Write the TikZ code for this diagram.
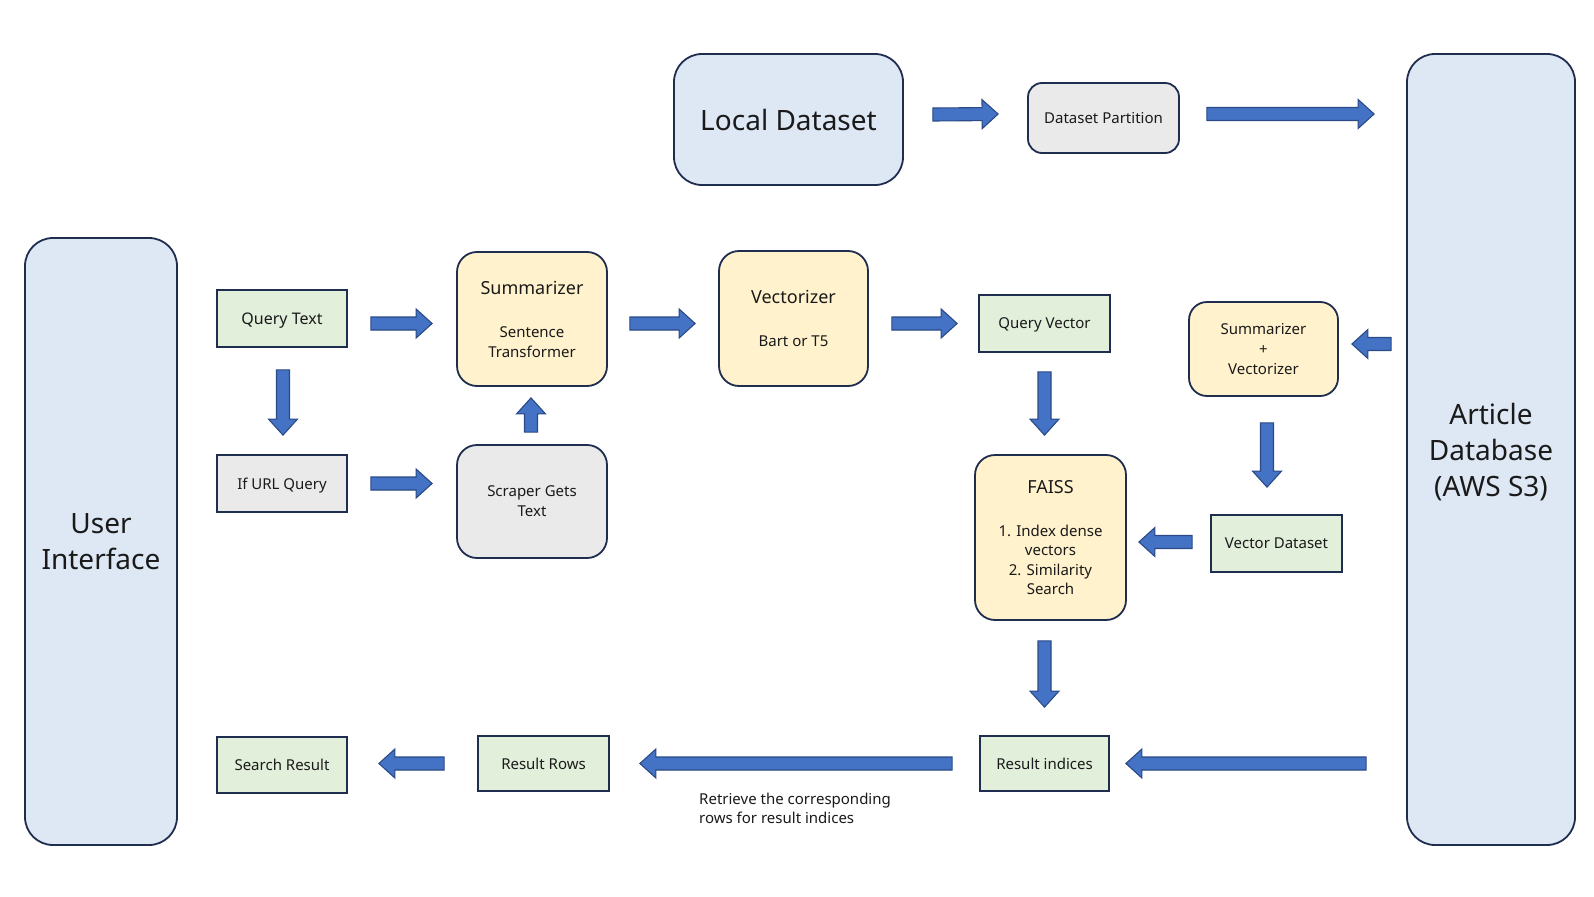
\documentclass[tikz,border=0pt]{standalone}
\usepackage{fontspec}
\setmainfont{Noto Sans}
\usetikzlibrary{calc}
\definecolor{bluebg}{HTML}{DEE8F4}
\definecolor{yelbg}{HTML}{FFF2CC}
\definecolor{grnbg}{HTML}{E2EFDA}
\definecolor{graybg}{HTML}{EAEAEA}
\definecolor{edgecol}{HTML}{1F2D4F}
\definecolor{arrfill}{HTML}{4472C4}
\definecolor{arredge}{HTML}{2B4A86}
\definecolor{txt}{HTML}{1A1A1A}
\newcommand\ttlfont{\fontsize{18}{20}\selectfont}
\newcommand\blkarrow[2]{%
  \path #1 coordinate (ba-s) #2 coordinate (ba-e);
  \path ($(ba-e)!16pt!(ba-s)$) coordinate (ba-h);
  \filldraw[blkarr] ($(ba-s)!6.5pt!90:(ba-e)$) -- ($(ba-h)!6.5pt!90:(ba-e)$) -- ($(ba-h)!14.5pt!90:(ba-e)$) -- (ba-e) -- ($(ba-h)!14.5pt!-90:(ba-e)$) -- ($(ba-h)!6.5pt!-90:(ba-e)$) -- ($(ba-s)!6.5pt!-90:(ba-e)$) -- cycle;}
\tikzset{
  box/.style={draw=edgecol, line width=1.8pt, inner sep=0pt, align=center, text=txt,
    font=\fontsize{15}{20}\selectfont, text depth=0pt},
  rbox/.style={box, rounded corners=20pt},
  bigbox/.style={box, rounded corners=28pt, fill=bluebg, font=\fontsize{28}{36}\selectfont},
  greenbox/.style={box, fill=grnbg},
  graybox/.style={box, fill=graybg},
  yelbox/.style={rbox, fill=yelbg},
  blkarr/.style={fill=arrfill, draw=arredge, line width=1.1pt, line join=miter}
}
\begin{document}
\begin{tikzpicture}[x=1pt, y=-1pt]
\useasboundingbox[fill=white] (0,0) rectangle (1594,896);

% big boxes
\node[bigbox, minimum width=229, minimum height=131] (ld) at (788.5,119.5) {Local Dataset};
\node[bigbox, minimum width=168, minimum height=791] (adb) at (1491,449.5) {Article\\Database\\(AWS S3)};
\node[bigbox, minimum width=152, minimum height=607] (ui) at (101,541.5) {User\\Interface};

% top row
\node[graybox, rounded corners=14pt, minimum width=151, minimum height=70] (dp) at (1103.5,118) {Dataset Partition};

% left column
\node[greenbox, minimum width=130, minimum height=57, font=\fontsize{16}{20}\selectfont] (qt) at (282,318.5) {Query Text};
\node[graybox, minimum width=130, minimum height=57] (iu) at (282,483.5) {If URL Query};
\node[greenbox, minimum width=130, minimum height=56] (sr) at (282,765) {Search Result};

% middle
\node[yelbox, minimum width=150, minimum height=134] (summ) at (532,319) {{\ttlfont Summarizer}\\[23pt]Sentence\\Transformer};
\node[graybox, rounded corners=20pt, minimum width=150, minimum height=113] (scr) at (532,501.5) {Scraper Gets\\Text};
\node[yelbox, minimum width=149, minimum height=135] (vec) at (793.5,318.5) {{\ttlfont Vectorizer}\\[23pt]Bart or T5};
\node[greenbox, minimum width=131, minimum height=57] (qv) at (1044.5,323.5) {Query Vector};
\node[yelbox, minimum width=151, minimum height=165] (faiss) at (1050.5,537.5) {{\ttlfont FAISS}\\[23pt]1. Index dense\\[-0.5pt]vectors\\[-0.5pt]2. Similarity\\[-0.5pt]Search};
\node[yelbox, rounded corners=18pt, minimum width=149, minimum height=94] (sv) at (1263.5,349) {Summarizer\\+\\Vectorizer};
\node[greenbox, minimum width=131, minimum height=57] (vd) at (1276.5,543.5) {Vector Dataset};

% bottom row
\node[greenbox, minimum width=129, minimum height=55] (ri) at (1044.5,763.5) {Result indices};
\node[greenbox, minimum width=131, minimum height=55] (rr) at (543.5,763.5) {Result Rows};
\node[anchor=west, align=left, text=txt, font=\fontsize{15}{19}\selectfont, inner sep=0pt] (lbl) at (699,808.5) {Retrieve the corresponding\\rows for result indices};

% block arrows
\blkarrow{($(ld.east)+(29,-5)$)}{($(dp.west)+(-29,-4)$)}
\blkarrow{($(dp.east)+(27,-4)$)}{($(dp.east -| adb.west)+(-32,-4)$)}
\blkarrow{($(qt.east)+(23,5)$)}{($(qt.east -| summ.west)+(-24,5)$)}
\blkarrow{($(qt.south)+(1,22)$)}{($(iu.north)+(1,-19)$)}
\blkarrow{($(iu.east)+(23,0)$)}{($(iu.east -| scr.west)+(-24,0)$)}
\blkarrow{($(scr.north)+(-1,-12)$)}{($(summ.south)+(-1,11)$)}
\blkarrow{($(summ.east)+(22,4.5)$)}{($(summ.east -| vec.west)+(-23,4.5)$)}
\blkarrow{($(vec.east)+(23,5)$)}{($(qv.west)+(-21,0)$)}
\blkarrow{($(qv.south)+(0,19)$)}{($(qv.south |- faiss.north)+(0,-19)$)}
\blkarrow{($(adb.west |- sv.east)+(-15,-5)$)}{($(sv.east)+(13,-5)$)}
\blkarrow{($(sv.south)+(3.5,26)$)}{($(sv.south |- vd.north)+(3.5,-27)$)}
\blkarrow{($(vd.west)+(-18,-1.5)$)}{($(vd.west -| faiss.east)+(12,-1.5)$)}
\blkarrow{($(ri.north |- faiss.south)+(0,20)$)}{($(ri.north)+(0,-28)$)}
\blkarrow{($(adb.west |- ri.east)+(-40,0)$)}{($(ri.east)+(16,0)$)}
\blkarrow{($(ri.west)+(-27,0)$)}{($(rr.east)+(30,0)$)}
\blkarrow{($(rr.west)+(-33,0)$)}{($(rr.west -| sr.east)+(31,0)$)}
\end{tikzpicture}
\end{document}
